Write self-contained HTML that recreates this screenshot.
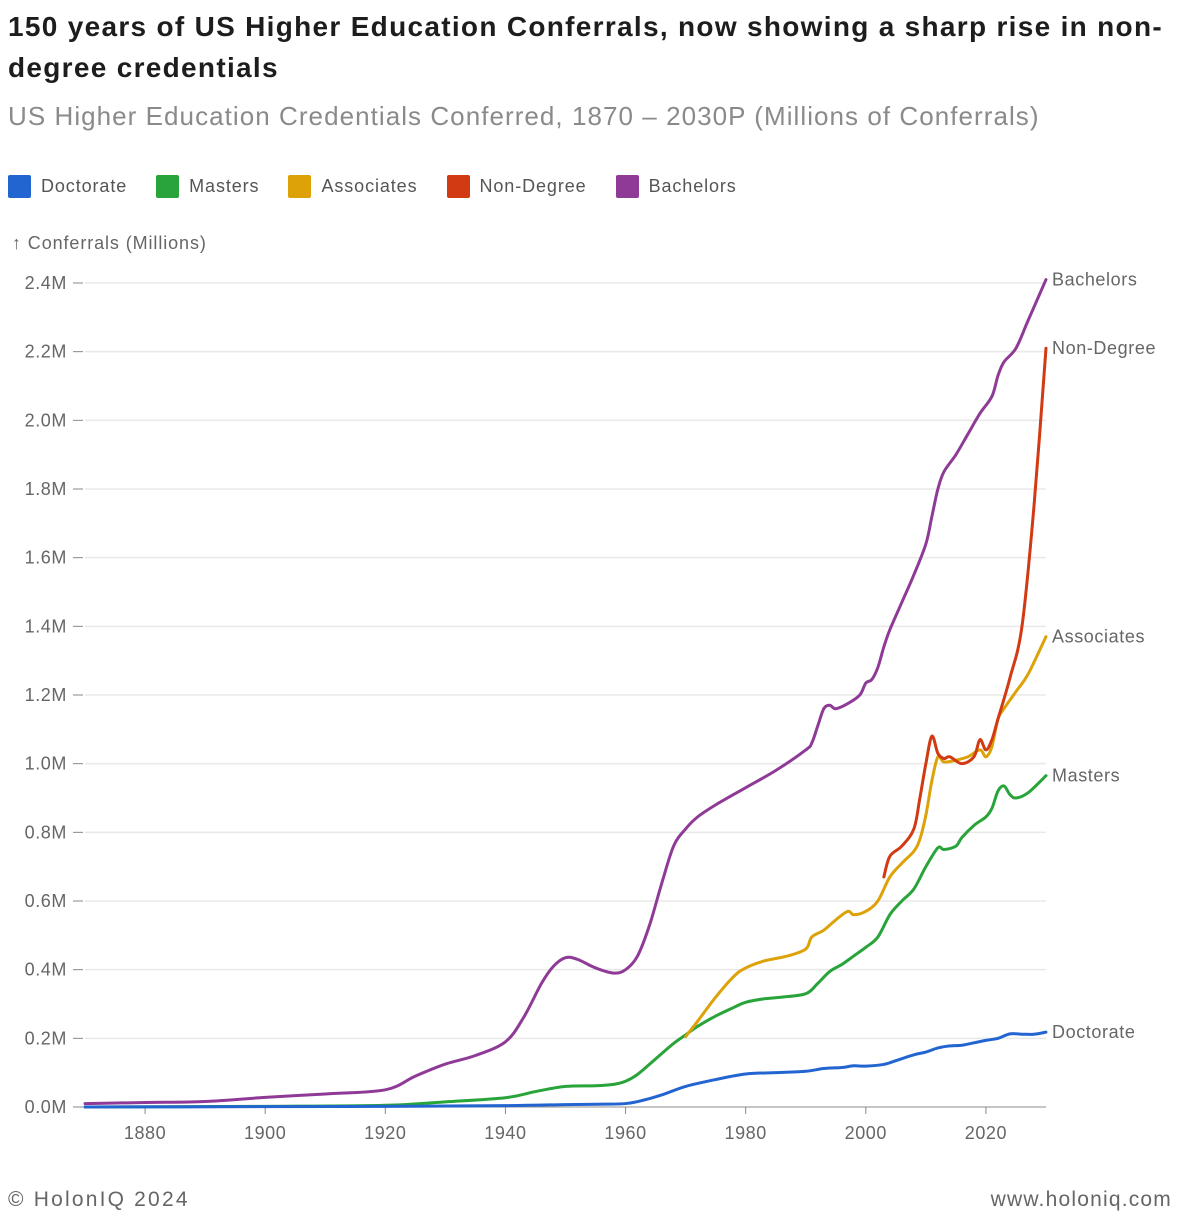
<!DOCTYPE html>
<html><head><meta charset="utf-8">
<style>
body{margin:0;background:#fff;font-family:"Liberation Sans",Helvetica,Arial,sans-serif;}
.wrap{position:relative;width:1180px;height:1222px;overflow:hidden;}
h1{position:absolute;left:8px;top:6px;margin:0;font-size:28px;line-height:41px;font-weight:bold;color:#1d1d1d;width:1172px;letter-spacing:1.3px;}
.sub{position:absolute;left:8px;top:101px;font-size:26px;color:#8a8a8a;letter-spacing:1.05px;white-space:nowrap;}
.legend{position:absolute;left:8px;top:175px;display:flex;font-size:18px;color:#555;letter-spacing:0.9px;}
.li{display:flex;align-items:center;margin-right:29px;}
.sw{width:23px;height:23px;margin-right:10px;border-radius:2px;}
.foot{position:absolute;top:1188px;font-size:21px;color:#666;letter-spacing:1.2px;}
</style></head><body>
<div class="wrap">
<h1>150 years of US Higher Education Conferrals, now showing a sharp rise in non-degree credentials</h1>
<div class="sub">US Higher Education Credentials Conferred, 1870 – 2030P (Millions of Conferrals)</div>
<div class="legend">
<div class="li"><div class="sw" style="background:#2265d0"></div>Doctorate</div>
<div class="li"><div class="sw" style="background:#28a43a"></div>Masters</div>
<div class="li"><div class="sw" style="background:#dca208"></div>Associates</div>
<div class="li"><div class="sw" style="background:#d13a12"></div>Non-Degree</div>
<div class="li"><div class="sw" style="background:#8e3a96"></div>Bachelors</div>
</div>
<svg id="chart" width="1180" height="1222" style="position:absolute;left:0;top:0"></svg>
<div class="foot" style="left:8px;letter-spacing:2.2px">© HolonIQ 2024</div>
<div class="foot" style="right:8px">www.holoniq.com</div>
</div>
<script>
const yTicks=[0,0.2,0.4,0.6,0.8,1.0,1.2,1.4,1.6,1.8,2.0,2.2,2.4];
const xTicks=[1880,1900,1920,1940,1960,1980,2000,2020];
const bachYears=[1870,1880,1890,1900,1910,1920,1925,1930,1935,1940,1943,1946,1948,1950,1952,1955,1958,1960,1962,1964,1966,1968,1970,1972,1975,1980,1985,1990,1991,1992,1993,1994,1995,1997,1999,2000,2001,2002,2003,2004,2006,2008,2010,2011,2012,2013,2015,2017,2019,2021,2022,2023,2025,2027,2030];
const bachVals=[0.01,0.013,0.016,0.028,0.038,0.05,0.09,0.125,0.15,0.19,0.26,0.36,0.41,0.435,0.43,0.405,0.39,0.40,0.44,0.53,0.65,0.76,0.81,0.845,0.88,0.93,0.98,1.04,1.06,1.11,1.16,1.17,1.16,1.175,1.2,1.235,1.245,1.28,1.34,1.39,1.47,1.55,1.64,1.72,1.80,1.85,1.9,1.96,2.02,2.07,2.13,2.17,2.21,2.29,2.41];
const mastYears=[1870,1900,1920,1930,1940,1945,1950,1955,1958,1960,1962,1965,1968,1970,1972,1975,1978,1980,1983,1986,1990,1992,1994,1996,1998,2000,2002,2004,2006,2008,2010,2012,2013,2015,2016,2018,2020,2021,2022,2023,2024,2025,2027,2030];
const mastVals=[0,0.002,0.005,0.015,0.027,0.045,0.06,0.062,0.066,0.075,0.095,0.14,0.185,0.21,0.235,0.265,0.29,0.305,0.315,0.32,0.33,0.36,0.395,0.415,0.44,0.465,0.495,0.56,0.6,0.635,0.7,0.755,0.75,0.76,0.785,0.82,0.845,0.87,0.92,0.935,0.91,0.9,0.915,0.965];
const assocYears=[1970,1972,1975,1978,1980,1983,1987,1990,1991,1993,1995,1997,1998,2000,2002,2004,2006,2008,2009,2010,2011,2012,2013,2015,2017,2019,2020,2021,2022,2023,2025,2027,2030];
const assocVals=[0.205,0.25,0.32,0.38,0.405,0.425,0.44,0.46,0.495,0.515,0.545,0.57,0.56,0.57,0.6,0.67,0.71,0.745,0.78,0.85,0.95,1.02,1.005,1.01,1.02,1.04,1.02,1.05,1.13,1.16,1.21,1.26,1.37];
const ndYears=[2003,2004,2006,2008,2009,2010,2011,2012,2013,2014,2016,2018,2019,2020,2021,2022,2024,2026,2028,2030];
const ndVals=[0.67,0.73,0.76,0.81,0.9,1.0,1.08,1.03,1.015,1.02,1.0,1.02,1.07,1.04,1.07,1.13,1.25,1.4,1.75,2.21];
const docYears=[1870,1900,1920,1940,1950,1955,1960,1963,1966,1970,1975,1980,1985,1990,1993,1996,1998,2000,2003,2005,2008,2010,2012,2014,2016,2018,2020,2022,2024,2026,2028,2030];
const docVals=[0,0.001,0.002,0.004,0.007,0.008,0.01,0.02,0.035,0.06,0.08,0.096,0.1,0.104,0.112,0.115,0.12,0.119,0.124,0.135,0.152,0.16,0.172,0.178,0.18,0.187,0.194,0.2,0.213,0.212,0.212,0.218];

const NS="http://www.w3.org/2000/svg";
const svg=document.getElementById('chart');
const X0=85,X1=1046,Y0=1107,Y1=283;
const x=y=>X0+(y-1870)/(2030-1870)*(X1-X0);
const yS=v=>Y0-v/2.4*(Y0-Y1);
function mk(t,a){const e=document.createElementNS(NS,t);for(const k in a)e.setAttribute(k,a[k]);svg.appendChild(e);return e;}
yTicks.forEach(v=>{
 const g=mk('line',{x1:X0,x2:X1,y1:yS(v),y2:yS(v),stroke:'#e8e8e8','stroke-width':1.5});
 
 
 const tk=mk('line',{x1:73,x2:83,y1:yS(v),y2:yS(v),stroke:'#888','stroke-width':1});
 
 
 const t=mk('text',{x:67,y:yS(v)+6,'text-anchor':'end','font-size':18,fill:'#666','letter-spacing':0.6});
 t.textContent=v.toFixed(1)+'M';
 
 
});
const ax=mk('line',{x1:X0,x2:X1,y1:Y0,y2:Y0,stroke:'#999','stroke-width':1});


xTicks.forEach(v=>{
 const tk=mk('line',{x1:x(v),x2:x(v),y1:Y0,y2:Y0+7,stroke:'#888'});
 
 
 const t=mk('text',{x:x(v),y:1139,'text-anchor':'middle','font-size':18,fill:'#666','letter-spacing':0.6});
 t.textContent=v;
 
 
});
const yt=mk('text',{x:12,y:249,'font-size':18,fill:'#666','letter-spacing':0.9});
yt.textContent='↑ Conferrals (Millions)';


function path(ys,vs){
 const p=ys.map((y,i)=>[x(y),yS(vs[i])]);
 let d='M'+p[0][0]+','+p[0][1];
 for(let i=0;i<p.length-1;i++){
  const a=p[i-1]||p[i],b=p[i],c=p[i+1],e=p[i+2]||c;
  const c1=[b[0]+(c[0]-a[0])/6,b[1]+(c[1]-a[1])/6],c2=[c[0]-(e[0]-b[0])/6,c[1]-(e[1]-b[1])/6];
  d+=`C${c1[0]},${c1[1]} ${c2[0]},${c2[1]} ${c[0]},${c[1]}`;
 }
 return d;
}
const series=[
 ['Bachelors','#8e3a96',bachYears,bachVals,'line-bachelors'],
 ['Masters','#28a43a',mastYears,mastVals,'line-masters'],
 ['Associates','#dca208',assocYears,assocVals,'line-associates'],
 ['Non-Degree','#d13a12',ndYears,ndVals,'line-non-degree'],
 ['Doctorate','#2265d0',docYears,docVals,'line-doctorate']];
series.forEach(s=>{
 const l=mk('path',{d:path(s[2],s[3]),fill:'none',stroke:s[1],'stroke-width':3,'stroke-linejoin':'round','stroke-linecap':'round'});
 
 
 const last=s[3][s[3].length-1];
 const t=mk('text',{x:1052,y:yS(last)+6,'font-size':18,fill:'#666','letter-spacing':0.6});
 t.textContent=s[0];
 
 
});
</script>
</body></html>
